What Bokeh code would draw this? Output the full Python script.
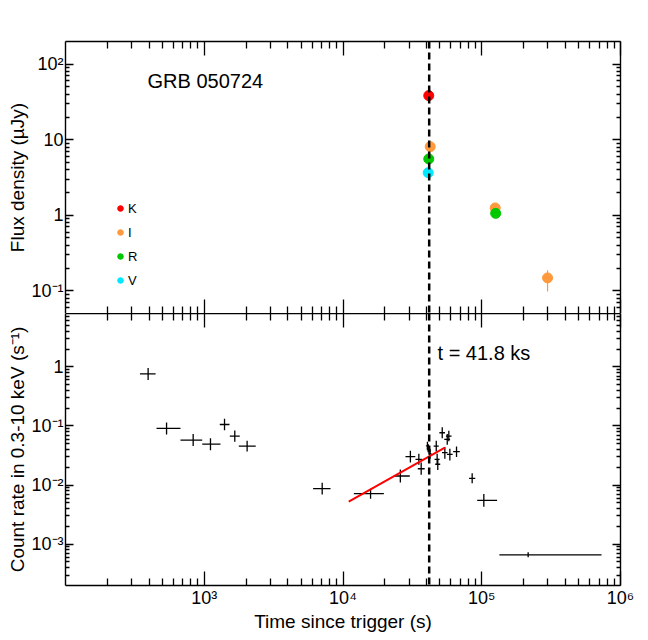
import math
from bokeh.plotting import figure
from bokeh.models import (LogAxis, FixedTicker, CustomJSTickFormatter, Span, Label,
                          Legend, LegendItem, ColumnDataSource)
from bokeh.layouts import column
from bokeh.embed import file_html
from bokeh.resources import INLINE

FONT = "Liberation Sans"

# ---------------- optical / NIR data (top panel) ----------------
opt_band = ["K", "I", "R", "V"]
opt_color = ["#ff0000", "#ff9a3c", "#00c800", "#00e8ff"]
opt_t = {"K": [41500], "I": [42500, 125000, 298000], "R": [41500, 126000], "V": [41100]}
opt_flux = {"K": [38.4], "I": [8.1, 1.25, 0.148], "R": [5.57, 1.06], "V": [3.66]}
opt_flux_lo = {"K": [37.0], "I": [7.8, 1.2, 0.0975], "R": [5.4, 1.02], "V": [3.5]}
opt_flux_hi = {"K": [39.8], "I": [8.4, 1.3, 0.187], "R": [5.75, 1.1], "V": [3.8]}

# ---------------- X-ray data (bottom panel) ----------------
xr_t = [394, 535, 832, 1109, 1400, 1660, 2037, 7080, 15800, 25900, 30600, 35200, 36600,
        40600, 41200, 41800, 42400, 47000, 47700, 48200, 51900, 56400, 57900, 54200, 58900,
        65800, 85300, 103500, 216000]
xr_t_lo = [344, 453, 674, 967, 1294, 1528, 1775, 6090, 11970, 23600, 28200, 33300, 34600,
           39600, 40200, 40800, 41400, 45000, 45700, 46200, 49500, 53700, 55200, 51700, 56100,
           62200, 81000, 92700, 134000]
xr_t_hi = [446, 674, 967, 1309, 1520, 1803, 2350, 8130, 19700, 30300, 33200, 37200, 38800,
           41600, 42200, 42800, 43400, 49000, 49700, 50200, 54300, 59100, 60600, 56700, 61700,
           69500, 89800, 129000, 730000]
xr_rate = [0.76, 0.091, 0.0578, 0.0494, 0.106, 0.0675, 0.0457, 0.00869, 0.00716, 0.01425,
           0.0302, 0.0273, 0.0189, 0.046, 0.042, 0.038, 0.034, 0.0457, 0.0273, 0.0225,
           0.0768, 0.0594, 0.0675, 0.0353, 0.0331, 0.0367, 0.013, 0.00553, 0.00066]
xr_rate_lo = [0.60, 0.072, 0.046, 0.039, 0.085, 0.054, 0.037, 0.0069, 0.0059, 0.0111,
              0.024, 0.022, 0.015, 0.039, 0.036, 0.032, 0.028, 0.037, 0.022, 0.018,
              0.062, 0.048, 0.055, 0.028, 0.026, 0.030, 0.0107, 0.0043, 0.00060]
xr_rate_hi = [0.96, 0.115, 0.073, 0.062, 0.132, 0.084, 0.056, 0.0110, 0.0087, 0.0183,
              0.038, 0.034, 0.024, 0.054, 0.049, 0.045, 0.041, 0.056, 0.034, 0.028,
              0.095, 0.073, 0.083, 0.044, 0.041, 0.045, 0.0158, 0.0071, 0.00073]

fit_t = [11000, 54200]
fit_rate = [0.00525, 0.043]

t_mark = 41800

x_range = (1e2, 1e6)
top_y_range = (0.05, 200)
bot_y_range = (2e-4, 8)

x_major = [1e3, 1e4, 1e5, 1e6]
top_y_major = [0.1, 1, 10, 100]
bot_y_major = [1e-3, 1e-2, 1e-1, 1]

FRAME_W, FRAME_H = 555, 272


def minors(rng):
    lo, hi = rng
    out = []
    for k in range(int(math.floor(math.log10(lo))) - 1, int(math.ceil(math.log10(hi))) + 1):
        for m in range(2, 10):
            v = m * 10.0 ** k
            if lo < v < hi:
                out.append(v)
    return out


SUP_CODE = """
const e = Math.round(Math.log10(tick));
if (e == 0) return "1";
if (e == 1) return "10";
const sup = {"-":"\u207b","0":"\u2070","1":"\u00b9","2":"\u00b2","3":"\u00b3","4":"\u2074",
             "5":"\u2075","6":"\u2076","7":"\u2077","8":"\u2078","9":"\u2079"};
return "10" + String(e).split("").map(c => sup[c]).join("");
"""


def style_axis(ax, major_ticks, minor_ticks, major_len, minor_len, labels, line=True):
    ax.ticker = FixedTicker(ticks=major_ticks, minor_ticks=minor_ticks)
    ax.major_tick_in = major_len
    ax.major_tick_out = 0
    ax.minor_tick_in = minor_len
    ax.minor_tick_out = 0
    ax.major_tick_line_color = "black"
    ax.minor_tick_line_color = "black"
    ax.major_tick_line_width = 1.3
    ax.minor_tick_line_width = 1.3
    ax.axis_line_color = "black" if line else None
    ax.axis_line_width = 1.4
    if labels:
        ax.formatter = CustomJSTickFormatter(code=SUP_CODE)
        ax.major_label_text_font = FONT
        ax.major_label_text_font_size = "18px"
        ax.major_label_text_color = "black"
        ax.major_label_standoff = 2
        ax.axis_label_text_font = FONT
        ax.axis_label_text_font_size = "19px"
        ax.axis_label_text_font_style = "normal"
        ax.axis_label_text_color = "black"
        ax.axis_label_standoff = 0
    else:
        ax.formatter = CustomJSTickFormatter(code="return ''")
        ax.major_label_text_font_size = "0px"
        ax.major_label_standoff = 0


def make_fig(y_range, top, bottom):
    p = figure(frame_width=FRAME_W, frame_height=FRAME_H, x_axis_type="log",
               y_axis_type="log", x_range=x_range, y_range=y_range, toolbar_location=None,
               output_backend="svg", min_border_left=65, min_border_right=28,
               min_border_top=top, min_border_bottom=bottom)
    p.xgrid.visible = False
    p.ygrid.visible = False
    p.outline_line_color = None
    p.background_fill_color = None
    p.border_fill_color = None
    p.add_layout(LogAxis(), "right")
    p.add_layout(LogAxis(), "above")
    return p


xm = minors(x_range)

# ---------------- top panel ----------------
top = make_fig(top_y_range, 41, 0)
tym = minors(top_y_range)
style_axis(top.below[0], x_major, xm, 14, 7, False, line=False)
style_axis(top.above[0], x_major, xm, 14, 7, False)
style_axis(top.left[0], top_y_major, tym, 8, 4, True)
style_axis(top.right[0], top_y_major, tym, 8, 4, False)
top.left[0].axis_label = "Flux density (\u00b5Jy)"

top.add_layout(Span(location=t_mark, dimension="height", line_color="black",
                    line_width=2.5, line_dash="7 4"))

items = []
for band, col in zip(opt_band, opt_color):
    src = ColumnDataSource(dict(t=opt_t[band], f=opt_flux[band],
                                lo=opt_flux_lo[band], hi=opt_flux_hi[band]))
    top.segment(x0="t", y0="lo", x1="t", y1="hi", source=src, line_color=col, line_width=1.2)
    r = top.scatter(x="t", y="f", source=src, size=10, fill_color=col, line_color=col)
    items.append(LegendItem(label=band, renderers=[r]))

legend = Legend(items=items, location=(48, 23), border_line_color=None,
                background_fill_alpha=0, glyph_width=14, glyph_height=20,
                label_height=20, spacing=4, padding=10, label_standoff=1, margin=0,
                label_text_font=FONT, label_text_font_size="13px", label_text_color="black")
top.add_layout(legend)

top.add_layout(Label(x=390, y=60, text="GRB 050724", text_font=FONT,
                     text_font_size="20px", text_baseline="middle", text_color="black"))

# ---------------- bottom panel ----------------
bot = make_fig(bot_y_range, 0, 54)
bym = minors(bot_y_range)
style_axis(bot.below[0], x_major, xm, 14, 7, True)
style_axis(bot.above[0], x_major, xm, 14, 7, False)
style_axis(bot.left[0], bot_y_major, bym, 8, 4, True)
style_axis(bot.right[0], bot_y_major, bym, 8, 4, False)
bot.below[0].axis_label = "Time since trigger (s)"
bot.left[0].axis_label = "Count rate in 0.3-10 keV (s\u207b\u00b9)"

bot.add_layout(Span(location=t_mark, dimension="height", line_color="black",
                    line_width=2.5, line_dash="7 4"))

xsrc = ColumnDataSource(dict(t=xr_t, tlo=xr_t_lo, thi=xr_t_hi, r=xr_rate,
                             rlo=xr_rate_lo, rhi=xr_rate_hi))
bot.segment(x0="tlo", y0="r", x1="thi", y1="r", source=xsrc, line_color="black", line_width=1.3)
bot.segment(x0="t", y0="rlo", x1="t", y1="rhi", source=xsrc, line_color="black", line_width=1.3)
bot.line(fit_t, fit_rate, line_color="red", line_width=2)

bot.add_layout(Label(x=48000, y=1.72, text="t = 41.8 ks", text_font=FONT,
                     text_font_size="20px", text_baseline="middle", text_color="black"))

layout = column(top, bot, spacing=0)
open("out.html", "w").write(file_html(layout, INLINE))
